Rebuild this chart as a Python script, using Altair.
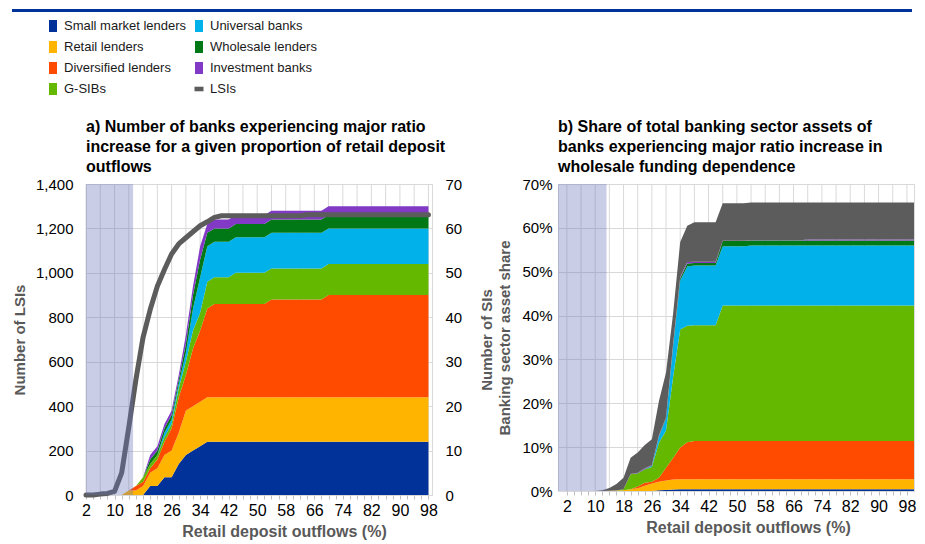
import altair as alt
import pandas as pd

FONT = "Arial, Liberation Sans, sans-serif"

# ---------------- categories / colours ----------------
categories = ["Small market lenders", "Retail lenders", "Diversified lenders", "G-SIBs",
              "Universal banks", "Wholesale lenders", "Investment banks", "LSIs"]
colors = ["#003299", "#FFB400", "#FF4B00", "#65B800", "#00B1EA", "#007816", "#8139C6", "#5C5C5C"]

# ---------------- panel a: number of banks ----------------
x_a = [2, 4, 6, 8, 10, 12, 14, 16, 18, 20, 22, 24, 26, 28, 30, 32, 34, 36, 38, 40,
       42, 44, 46, 48, 50, 52, 54, 56, 58, 60, 62, 64, 66, 68, 70, 72, 74, 76, 78, 80,
       82, 84, 86, 88, 90, 92, 94, 96, 98]
# SIs by business model (count, right axis)
a_small = [0, 0, 0, 0, 0, 0, 0, 0, 0, 2, 2, 4, 4, 7, 9, 10, 11, 12, 12, 12,
           12, 12, 12, 12, 12, 12, 12, 12, 12, 12, 12, 12, 12, 12, 12, 12, 12, 12, 12, 12,
           12, 12, 12, 12, 12, 12, 12, 12, 12]
a_retail = [0, 0, 0, 0, 0, 0, 1, 1, 2, 3, 4, 5, 6, 7, 10, 10, 10, 10, 10, 10,
            10, 10, 10, 10, 10, 10, 10, 10, 10, 10, 10, 10, 10, 10, 10, 10, 10, 10, 10, 10,
            10, 10, 10, 10, 10, 10, 10, 10, 10]
a_div = [0, 0, 0, 0, 0, 0, 0, 1, 1, 1, 2, 3, 5, 8, 8, 13, 16, 20, 21, 21,
         21, 21, 21, 21, 21, 21, 22, 22, 22, 22, 22, 22, 22, 22, 23, 23, 23, 23, 23, 23,
         23, 23, 23, 23, 23, 23, 23, 23, 23]
a_gsib = [0, 0, 0, 0, 0, 0, 0, 0, 1, 1, 1, 1, 1, 2, 3, 4, 4, 6, 6, 6,
          6, 7, 7, 7, 7, 7, 7, 7, 7, 7, 7, 7, 7, 7, 7, 7, 7, 7, 7, 7,
          7, 7, 7, 7, 7, 7, 7, 7, 7]
a_univ = [0, 0, 0, 0, 0, 0, 0, 0, 0, 0, 0, 1, 1, 1, 2, 5, 8, 8, 8, 8,
          8, 8, 8, 8, 8, 8, 8, 8, 8, 8, 8, 8, 8, 8, 8, 8, 8, 8, 8, 8,
          8, 8, 8, 8, 8, 8, 8, 8, 8]
a_whole = [0, 0, 0, 0, 0, 0, 0, 0, 0, 1, 1, 1, 1, 1, 2, 3, 4, 3, 3, 3,
           3, 3, 3, 3, 3, 3, 3, 3, 3, 3, 3, 3, 3, 3, 3, 3, 3, 3, 3, 3,
           3, 3, 3, 3, 3, 3, 3, 3, 3]
a_inv = [0, 0, 0, 0, 0, 0, 0, 0, 0, 1, 1, 1, 1, 1, 2, 2, 3, 2, 2, 2,
         2, 2, 2, 2, 2, 2, 2, 2, 2, 2, 2, 2, 2, 2, 2, 2, 2, 2, 2, 2,
         2, 2, 2, 2, 2, 2, 2, 2, 2]
# LSIs (count, left axis)
a_lsi = [0, 0, 4, 7, 16, 100, 305, 520, 710, 835, 940, 1015, 1085, 1130, 1158, 1185, 1212, 1230, 1250, 1257,
         1257, 1257, 1257, 1257, 1257, 1257, 1257, 1257, 1257, 1257, 1257, 1262, 1262, 1262, 1262, 1262, 1262, 1262, 1262, 1262,
         1262, 1262, 1262, 1262, 1262, 1262, 1262, 1262, 1262]

# ---------------- panel b: share of banking sector assets (%) ----------------
x_b = [2, 4, 6, 8, 10, 12, 14, 16, 18, 20, 22, 24, 26, 28, 30, 32, 34, 36, 38, 40,
       42, 44, 46, 48, 50, 52, 54, 56, 58, 60, 62, 64, 66, 68, 70, 72, 74, 76, 78, 80,
       82, 84, 86, 88, 90, 92, 94, 96, 98, 100]
b_small = [0, 0, 0, 0, 0, 0, 0, 0, 0, 0, 0, 0, 0, 0.15, 0.25, 0.35, 0.4, 0.4, 0.4, 0.4,
           0.4, 0.4, 0.4, 0.4, 0.4, 0.4, 0.4, 0.4, 0.4, 0.4, 0.4, 0.4, 0.4, 0.4, 0.4, 0.4, 0.4, 0.4, 0.4, 0.4,
           0.4, 0.4, 0.4, 0.4, 0.4, 0.4, 0.4, 0.4, 0.4, 0.4]
b_retail = [0, 0, 0, 0, 0, 0, 0.05, 0.1, 0.15, 0.4, 0.6, 1.2, 1.7, 1.95, 2.15, 2.25, 2.3, 2.3, 2.3, 2.3,
            2.3, 2.3, 2.3, 2.3, 2.3, 2.3, 2.3, 2.3, 2.3, 2.3, 2.3, 2.3, 2.3, 2.3, 2.3, 2.3, 2.3, 2.3, 2.3, 2.3,
            2.3, 2.3, 2.3, 2.3, 2.3, 2.3, 2.3, 2.3, 2.3, 2.3]
b_div = [0, 0, 0, 0, 0, 0, 0, 0, 0, 0, 0.4, 0.7, 0.4, 0.9, 2.9, 4.9, 7.2, 8.4, 8.7, 8.7,
         8.7, 8.7, 8.7, 8.7, 8.7, 8.7, 8.7, 8.7, 8.7, 8.7, 8.7, 8.7, 8.7, 8.7, 8.7, 8.7, 8.7, 8.7, 8.7, 8.7,
         8.7, 8.7, 8.7, 8.7, 8.7, 8.7, 8.7, 8.7, 8.7, 8.7]
b_gsib = [0, 0, 0, 0, 0, 0, 0, 0, 0.25, 3.4, 3.0, 3.0, 3.4, 8.0, 8.5, 18.5, 26.9, 26.6, 26.4, 26.4,
          26.4, 26.4, 30.9, 30.9, 30.9, 30.9, 30.9, 30.9, 30.9, 30.9, 30.9, 30.9, 30.9, 30.9, 30.9, 30.9, 30.9, 30.9, 30.9, 30.9,
          30.9, 30.9, 30.9, 30.9, 30.9, 30.9, 30.9, 30.9, 30.9, 30.9]
b_univ = [0, 0, 0, 0, 0, 0, 0, 0, 0, 0, 0, 0, 0.2, 1.5, 2.7, 7.0, 11.2, 13.5, 13.6, 13.6,
          13.6, 13.6, 13.5, 13.5, 13.5, 13.5, 13.7, 13.7, 13.7, 13.7, 13.7, 13.7, 13.7, 13.7, 13.7, 13.7, 13.7, 13.7, 13.7, 13.7,
          13.7, 13.7, 13.7, 13.7, 13.7, 13.7, 13.7, 13.7, 13.7, 13.7]
b_whole = [0, 0, 0, 0, 0, 0, 0, 0, 0, 0, 0.05, 0.1, 0.1, 0.1, 0.2, 0.3, 0.5, 0.7, 0.6, 0.6,
           0.6, 0.6, 1.2, 1.2, 1.2, 1.2, 1.1, 1.1, 1.1, 1.1, 1.1, 1.1, 1.1, 1.1, 1.1, 1.1, 1.1, 1.1, 1.1, 1.1,
           1.1, 1.1, 1.1, 1.1, 1.1, 1.1, 1.1, 1.1, 1.1, 1.1]
b_inv = [0, 0, 0, 0, 0, 0, 0, 0, 0, 0.1, 0.1, 0.2, 0.1, 0.1, 0.1, 0.2, 0.3, 0.3, 0.3, 0.3,
         0.3, 0.3, 0.05, 0.05, 0.05, 0.05, 0.05, 0.05, 0.05, 0.05, 0.05, 0.05, 0.05, 0.05, 0.25, 0.25, 0.25, 0.25, 0.25, 0.25,
         0.25, 0.25, 0.25, 0.25, 0.25, 0.25, 0.25, 0.25, 0.25, 0.25]
b_lsi = [0, 0, 0, 0, 0, 0.15, 0.65, 1.5, 2.6, 3.7, 4.65, 5.3, 5.9, 7.8, 10.2, 7.0, 8.0, 8.3, 9.0, 9.0,
         9.0, 9.0, 8.55, 8.55, 8.55, 8.55, 8.65, 8.65, 8.65, 8.65, 8.65, 8.65, 8.65, 8.65, 8.45, 8.45, 8.45, 8.45, 8.45, 8.45,
         8.45, 8.45, 8.45, 8.45, 8.45, 8.45, 8.45, 8.45, 8.45, 8.45]

# axis ticks / gridlines / shaded range
x_ticks = [2, 4, 6, 8, 10, 12, 14, 16, 18, 20, 22, 24, 26, 28, 30, 32, 34, 36, 38, 40, 42, 44, 46, 48,
           50, 52, 54, 56, 58, 60, 62, 64, 66, 68, 70, 72, 74, 76, 78, 80, 82, 84, 86, 88, 90, 92, 94, 96, 98]
x_grid = [2, 6, 10, 14, 18, 22, 26, 30, 34, 38, 42, 46, 50, 54, 58, 62, 66, 70, 74, 78, 82, 86, 90, 94, 98]
lsi_ticks = [0, 200, 400, 600, 800, 1000, 1200, 1400]
si_ticks = [0, 10, 20, 30, 40, 50, 60, 70]
shade_a = [2, 15.2]
shade_b = [-0.5, 13.2]

title_a = ["a) Number of banks experiencing major ratio",
           "increase for a given proportion of retail deposit",
           "outflows"]
title_b = ["b) Share of total banking sector assets of",
           "banks experiencing major ratio increase in",
           "wholesale funding dependence"]

# ---------------- tables ----------------
a_series = [a_small, a_retail, a_div, a_gsib, a_univ, a_whole, a_inv]
rows = []
for k, vals in enumerate(a_series):
    for xv, v in zip(x_a, vals):
        rows.append({"x": xv, "v": v, "cat": categories[k], "k": k})
df_a = pd.DataFrame(rows)
df_lsi = pd.DataFrame({"x": x_a, "lsi": a_lsi})

b_series = [b_small, b_retail, b_div, b_gsib, b_univ, b_whole, b_inv, b_lsi]
rows = []
for k, vals in enumerate(b_series):
    for xv, v in zip(x_b, vals):
        rows.append({"x": xv, "v": v, "cat": categories[k], "k": k})
df_b = pd.DataFrame(rows)

cscale = alt.Scale(domain=categories, range=colors)
color_enc = alt.Color("cat:N", scale=cscale, legend=None)

GRID = "#D9D9D9"
TITLE_GRAY = "#595959"
LABEL_EXPR = "(datum.value - 2) % 8 == 0 ? datum.label : ''"


def x_axis(title_x):
    return alt.Axis(values=x_ticks, labelExpr=LABEL_EXPR, grid=False, domain=False,
                    ticks=True, tickSize=4, tickColor="#BFBFBF", labelFontSize=16,
                    labelColor="#000000", labelPadding=3, labelOverlap=False, labelFlush=False,
                    title="Retail deposit outflows (%)", titleFontSize=16, titleFontWeight="bold",
                    titleColor=TITLE_GRAY, titlePadding=5, titleX=title_x)


# ---------------- panel a chart ----------------
xs_a = alt.Scale(domain=[2, 99], nice=False, zero=False)
W_A, H_A = 346, 311

vgrid_a = alt.Chart(pd.DataFrame({"x": x_grid})).mark_rule(color=GRID, strokeWidth=1).encode(
    x=alt.X("x:Q", scale=xs_a, axis=x_axis(198)))

area_a = alt.Chart(df_a).mark_area(interpolate="linear").encode(
    x=alt.X("x:Q", scale=xs_a, axis=x_axis(198)),
    y=alt.Y("v:Q", stack="zero", scale=alt.Scale(domain=[0, 70], nice=False),
            axis=alt.Axis(orient="right", values=si_ticks, grid=False, domain=False, ticks=False,
                          labelPadding=13, labelFontSize=15, labelColor="#000000",
                          title="Number of SIs", titleFontSize=15, titleFontWeight="bold",
                          titleColor=TITLE_GRAY, titleAngle=270, titlePadding=33)),
    color=color_enc,
    order=alt.Order("k:Q", sort="ascending"))

line_a = alt.Chart(df_lsi).mark_line(color="#5C5C5C", strokeWidth=5, strokeCap="round",
                                     strokeJoin="round").encode(
    x=alt.X("x:Q", scale=xs_a, axis=x_axis(198)),
    y=alt.Y("lsi:Q", scale=alt.Scale(domain=[0, 1400], nice=False),
            axis=alt.Axis(orient="left", values=lsi_ticks, format=",.0f", grid=True, gridColor=GRID,
                          domain=False, ticks=False, labelPadding=13, labelFontSize=15,
                          labelColor="#000000", title="Number of LSIs", titleFontSize=15,
                          titleFontWeight="bold", titleColor=TITLE_GRAY, titlePadding=8)))

shade_a_chart = alt.Chart(pd.DataFrame({"x0": [shade_a[0]], "x1": [shade_a[1]]})).mark_rect(
    color="#6573B8", opacity=0.35).encode(
    x=alt.X("x0:Q", scale=xs_a, axis=x_axis(198)), x2="x1:Q")

panel_a = alt.layer(vgrid_a, area_a, line_a, shade_a_chart).resolve_scale(y="independent").properties(
    width=W_A, height=H_A,
    title=alt.TitleParams(text=title_a, anchor="start", frame="group", fontSize=16,
                          fontWeight="bold", lineHeight=20, offset=2, color="#000000"))

# ---------------- panel b chart ----------------
xs_b = alt.Scale(domain=[-0.5, 100], nice=False, zero=False)
W_B, H_B = 356, 307

vgrid_b = alt.Chart(pd.DataFrame({"x": x_grid})).mark_rule(color=GRID, strokeWidth=1).encode(
    x=alt.X("x:Q", scale=xs_b, axis=x_axis(190)))

area_b = alt.Chart(df_b).mark_area(interpolate="linear").encode(
    x=alt.X("x:Q", scale=xs_b, axis=x_axis(190)),
    y=alt.Y("v:Q", stack="zero", scale=alt.Scale(domain=[0, 70], nice=False),
            axis=alt.Axis(orient="left", values=si_ticks, labelExpr="datum.value + '%'", grid=True,
                          gridColor=GRID, domain=False, ticks=False, labelPadding=6, labelFontSize=15,
                          labelColor="#000000", title="Banking sector asset share", titleFontSize=15,
                          titleFontWeight="bold", titleColor=TITLE_GRAY, titlePadding=9)),
    color=color_enc,
    order=alt.Order("k:Q", sort="ascending"))

shade_b_chart = alt.Chart(pd.DataFrame({"x0": [shade_b[0]], "x1": [shade_b[1]]})).mark_rect(
    color="#6573B8", opacity=0.35).encode(
    x=alt.X("x0:Q", scale=xs_b, axis=x_axis(190)), x2="x1:Q")

panel_b = alt.layer(vgrid_b, area_b, shade_b_chart).properties(
    width=W_B, height=H_B,
    title=alt.TitleParams(text=title_b, anchor="start", frame="group", fontSize=16,
                          fontWeight="bold", lineHeight=20, offset=2, color="#000000"))

# ---------------- legend ----------------
legend_col = [0, 0, 0, 0, 1, 1, 1, 1]
legend_row = [0, 1, 2, 3, 0, 1, 2, 3]
SQ = "M-0.67,-1L0.67,-1L0.67,1L-0.67,1Z"
BAR = "M-0.75,-0.38L0.75,-0.38L0.75,0.38L-0.75,0.38Z"
legend_shape = [SQ, SQ, SQ, SQ, SQ, SQ, SQ, BAR]
df_leg = pd.DataFrame({"cat": categories, "col": legend_col, "row": legend_row,
                       "shape": legend_shape})
lx = alt.X("col:Q", scale=alt.Scale(domain=[0, 1], range=[-33, 113]), axis=None)
ly = alt.Y("row:Q", scale=alt.Scale(domain=[0, 3], range=[17, 80]), axis=None)
leg_sym = alt.Chart(df_leg).mark_point(filled=True, opacity=1, size=144, strokeWidth=0).encode(
    x=lx, y=ly, color=alt.Color("cat:N", scale=cscale, legend=None),
    shape=alt.Shape("shape:N", scale=None))
leg_txt = alt.Chart(df_leg).mark_text(align="left", baseline="middle", dx=11, fontSize=13,
                                      color="#1A1A1A").encode(x=lx, y=ly, text="cat:N")
top_bar = alt.Chart(pd.DataFrame({"a": [0]})).mark_rule(color="#003299", strokeWidth=3).encode(
    x=alt.value(-74), x2=alt.value(826), y=alt.value(1.5))
legend = alt.layer(top_bar, leg_sym, leg_txt).properties(
    width=300, height=86, view=alt.ViewBackground(stroke="transparent"))

# ---------------- assemble ----------------
chart = alt.vconcat(legend, alt.hconcat(panel_a, panel_b, spacing=1), spacing=21).properties(
    padding={"left": 2, "top": 0, "right": 0, "bottom": 0}
).configure(font=FONT).configure_view(stroke=GRID).configure_axis(
    labelFont=FONT, titleFont=FONT).configure_title(font=FONT)

chart.save("out.html", embed_options={"renderer": "svg", "actions": False})
